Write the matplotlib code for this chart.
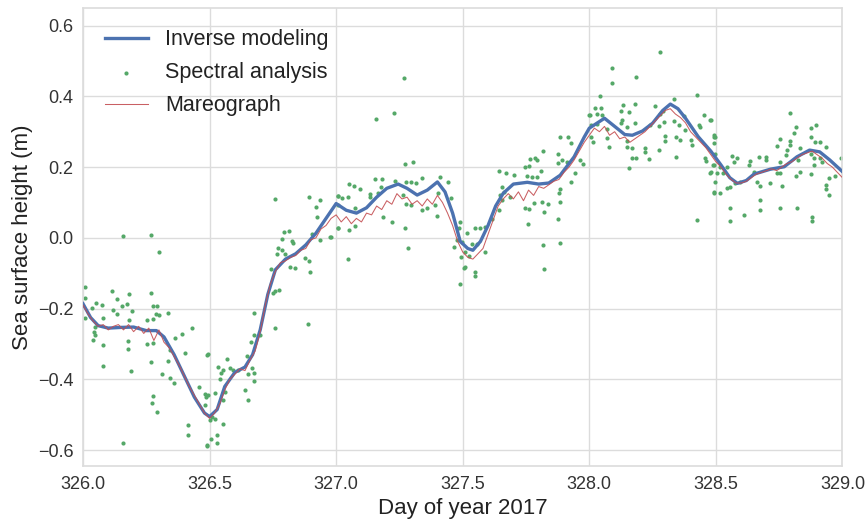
import numpy as np
import matplotlib
matplotlib.use("Agg")
import matplotlib.pyplot as plt

# Inverse modeling (smooth estimate)
inv_x = [326.00, 326.03, 326.06, 326.10, 326.15, 326.20, 326.25, 326.29, 326.32, 326.36,
         326.40, 326.44, 326.48, 326.50, 326.53, 326.56, 326.60, 326.64, 326.67, 326.70,
         326.73, 326.76, 326.80, 326.84, 326.88, 326.92, 326.96, 327.00, 327.04, 327.08,
         327.12, 327.16, 327.20, 327.245, 327.28, 327.32, 327.36, 327.40, 327.43, 327.46,
         327.49, 327.52, 327.54, 327.57, 327.60, 327.63, 327.66, 327.70, 327.755, 327.80,
         327.84, 327.885, 327.94, 327.98, 328.00, 328.06, 328.10, 328.14, 328.17, 328.21,
         328.25, 328.29, 328.32, 328.35, 328.38, 328.43, 328.48, 328.52, 328.555, 328.585,
         328.62, 328.65, 328.715, 328.77, 328.82, 328.87, 328.91, 328.95, 329.00]
inv_y = [-0.186, -0.225, -0.248, -0.255, -0.253, -0.252, -0.262, -0.262, -0.28, -0.33,
         -0.39, -0.45, -0.495, -0.505, -0.485, -0.42, -0.38, -0.365, -0.33, -0.26,
         -0.16, -0.09, -0.06, -0.045, -0.02, 0.013, 0.055, 0.097, 0.078, 0.07,
         0.085, 0.115, 0.14, 0.152, 0.14, 0.121, 0.135, 0.158, 0.13, 0.07,
         -0.01, -0.03, -0.035, -0.01, 0.035, 0.09, 0.126, 0.152, 0.157, 0.152,
         0.155, 0.177, 0.229, 0.285, 0.31, 0.338, 0.315, 0.292, 0.29, 0.302,
         0.324, 0.36, 0.378, 0.365, 0.338, 0.286, 0.245, 0.206, 0.17, 0.154,
         0.162, 0.18, 0.194, 0.201, 0.229, 0.248, 0.243, 0.22, 0.187]

# Mareograph, sampled every 0.02 day from 326.0 to 329.0
mareo_y = [-0.19, -0.215, -0.235, -0.25, -0.245, -0.26, -0.25, -0.245, -0.26, -0.245,
           -0.265, -0.25, -0.27, -0.255, -0.29, -0.26, -0.295, -0.31, -0.335, -0.36,
           -0.39, -0.42, -0.445, -0.47, -0.495, -0.51, -0.495, -0.47, -0.43, -0.40,
           -0.385, -0.37, -0.375, -0.345, -0.32, -0.265, -0.19, -0.13, -0.095, -0.07,
           -0.065, -0.055, -0.05, -0.035, -0.03, -0.005, 0.0, 0.025, 0.035, 0.055,
           0.065, 0.045, 0.06, 0.04, 0.055, 0.045, 0.07, 0.065, 0.09, 0.08,
           0.105, 0.095, 0.125, 0.11, 0.115, 0.095, 0.105, 0.09, 0.11, 0.095,
           0.12, 0.10, 0.07, 0.035, -0.01, -0.04, -0.055, -0.06, -0.045, -0.03,
           0.01, 0.05, 0.09, 0.11, 0.125, 0.11, 0.13, 0.105, 0.135, 0.12,
           0.145, 0.14, 0.15, 0.16, 0.165, 0.185, 0.2, 0.22, 0.245, 0.27,
           0.29, 0.31, 0.3, 0.315, 0.29, 0.3, 0.28, 0.285, 0.27, 0.28,
           0.29, 0.3, 0.315, 0.33, 0.345, 0.36, 0.365, 0.35, 0.34, 0.325,
           0.30, 0.285, 0.27, 0.255, 0.235, 0.215, 0.2, 0.18, 0.165, 0.155,
           0.155, 0.16, 0.17, 0.18, 0.185, 0.19, 0.195, 0.19, 0.2, 0.21,
           0.215, 0.225, 0.235, 0.24, 0.245, 0.235, 0.225, 0.21, 0.2, 0.185,
           0.17]
mareo_x = np.linspace(326.0, 329.0, len(mareo_y))

# Spectral analysis estimates (scattered points)
spec_x = [326.159, 326.269, 326.30, 326.007, 326.007, 326.116, 326.18, 326.27, 326.133, 326.051,
          326.075, 326.034, 326.153, 326.173, 326.275, 326.291, 326.12, 326.192, 326.133, 326.289,
          326.30, 326.337, 326.008, 326.08, 326.182, 326.252, 326.275, 326.047, 326.043, 326.047,
          326.041, 326.43, 326.39, 326.364, 326.177, 326.252, 326.275, 326.08, 326.177, 326.344,
          326.403, 326.489, 326.27, 326.337, 326.08, 326.189, 326.311, 326.344, 326.361, 326.458,
          326.483, 326.277, 326.486, 326.274, 326.291, 326.414, 326.414, 326.158, 326.489,
          326.759, 326.894, 326.937, 327.007, 326.921, 326.924, 327.007, 326.794, 326.815, 326.785,
          326.825, 326.831, 326.77, 326.788, 326.766, 326.798, 326.877, 326.891, 326.818, 326.838,
          326.743, 326.898, 326.937, 326.98, 326.906, 326.759, 326.776, 326.752, 326.677, 326.887,
          326.759, 326.677, 326.70, 326.663, 326.493, 326.647, 326.535, 326.567, 326.555, 326.581,
          326.594, 326.614, 326.667, 326.677, 326.54, 326.546, 326.651, 326.677, 326.64, 326.493,
          326.522, 326.561, 326.555, 326.653, 326.482, 326.511, 326.522, 326.503, 326.555, 326.528,
          326.506, 326.528, 326.489, 326.976,
          327.269, 327.227, 327.159, 327.27, 327.302, 327.049, 327.071, 327.095, 327.154, 327.18,
          327.233, 327.276, 327.296, 327.316, 327.339, 327.411, 327.443, 327.007, 327.025, 327.045,
          327.134, 327.134, 327.167, 327.178, 327.266, 327.277, 327.296, 327.358, 327.339, 327.391,
          327.404, 327.453, 327.075, 327.009, 327.187, 327.22, 327.40, 327.009, 327.049, 327.075,
          327.27, 327.282, 327.046, 327.464, 327.484, 327.49, 327.477, 327.507, 327.49, 327.494,
          327.517, 327.549, 327.569, 327.589, 327.615, 327.497, 327.536, 327.555, 327.51, 327.524,
          327.589, 327.506, 327.549, 327.549, 327.642, 327.672, 327.704, 327.655, 327.664,
          327.648, 327.655, 327.688, 327.642, 327.747, 327.763, 327.758, 327.78, 327.813, 327.837,
          327.82, 327.817, 327.82, 327.876, 327.883, 327.747, 327.76, 327.767, 327.787, 327.794,
          327.817, 327.81, 327.753, 327.773, 327.795, 327.885, 327.914, 327.929, 327.875, 327.892,
          327.912, 327.876, 327.945, 327.929, 327.885, 327.879, 327.885, 327.975, 328.0, 327.962,
          328.281, 328.09, 328.186, 328.09, 328.043, 328.426, 328.333, 328.024, 328.046, 328.132,
          328.179, 328.258, 328.29, 328.004, 328.03, 328.05, 328.125, 328.155, 328.281, 328.452,
          328.478, 328.129, 328.126, 328.296, 328.333, 328.373, 328.356, 328.179, 328.03, 328.008,
          328.149, 328.241, 328.277, 328.378, 328.433, 328.439, 328.491, 328.07, 328.008, 328.07,
          328.013, 328.149, 328.077, 328.149, 328.169, 328.221, 328.221, 328.277, 328.298, 328.298,
          328.342, 328.36, 328.403, 328.406, 328.169, 328.185, 328.235, 328.342, 328.458, 328.461,
          328.158, 328.482, 328.488, 328.491, 328.425,
          328.794, 328.818, 328.897, 328.874, 328.808, 328.874, 328.481, 328.494, 328.498, 328.752,
          328.791, 328.494, 328.893, 328.913, 328.742, 328.794, 328.781, 328.933, 328.834, 328.498,
          328.775, 328.824, 328.874, 328.887, 328.913, 328.887, 328.92, 328.564, 328.585, 328.572,
          328.636, 328.672, 328.698, 328.698, 328.755, 328.63, 328.491, 328.518, 328.544, 328.742,
          328.755, 328.834, 328.818, 328.874, 328.946, 328.972, 328.995, 328.478, 328.504, 328.528,
          328.649, 328.498, 328.577, 328.597, 328.663, 328.715, 328.542, 328.557, 328.673, 328.762,
          328.494, 328.518, 328.933, 328.933, 328.946, 328.673, 328.555, 328.673, 328.755, 328.821,
          328.61, 328.555, 328.88, 328.88]
spec_y = [0.005, 0.008, -0.04, -0.139, -0.17, -0.151, -0.159, -0.157, -0.173, -0.183,
          -0.19, -0.197, -0.193, -0.188, -0.193, -0.192, -0.205, -0.207, -0.214, -0.214,
          -0.217, -0.212, -0.225, -0.225, -0.231, -0.231, -0.23, -0.253, -0.266, -0.275,
          -0.289, -0.256, -0.272, -0.283, -0.291, -0.299, -0.296, -0.304, -0.315, -0.318,
          -0.325, -0.33, -0.351, -0.349, -0.361, -0.375, -0.386, -0.395, -0.41, -0.421,
          -0.44, -0.447, -0.45, -0.467, -0.491, -0.529, -0.558, -0.58, -0.587,
          0.109, 0.116, 0.107, 0.118, 0.086, 0.059, 0.027, 0.017, 0.02, -0.002,
          -0.008, -0.014, -0.03, -0.035, -0.046, -0.046, -0.058, -0.065, -0.082, -0.084,
          -0.087, -0.096, -0.005, 0.003, 0.012, -0.15, -0.146, -0.157, -0.212, -0.242,
          -0.256, -0.275, -0.275, -0.294, -0.329, -0.335, -0.365, -0.343, -0.372, -0.367,
          -0.374, -0.372, -0.367, -0.382, -0.4, -0.382, -0.386, -0.405, -0.431, -0.445,
          -0.438, -0.436, -0.459, -0.457, -0.473, -0.506, -0.511, -0.516, -0.527, -0.558,
          -0.567, -0.58, -0.586, 0.003,
          0.453, 0.354, 0.335, 0.208, 0.215, 0.152, 0.147, 0.138, 0.166, 0.166,
          0.161, 0.157, 0.158, 0.154, 0.168, 0.171, 0.157, 0.118, 0.114, 0.116,
          0.123, 0.116, 0.127, 0.144, 0.121, 0.097, 0.094, 0.083, 0.078, 0.093,
          0.126, 0.114, 0.083, 0.094, 0.059, 0.044, 0.062, 0.027, 0.022, 0.033,
          0.027, -0.03, -0.061, -0.025, 0.027, 0.045, -0.007, -0.082, -0.129, -0.054,
          0.014, 0.027, 0.027, 0.031, 0.052, -0.011, -0.016, -0.018, -0.04, -0.052,
          -0.04, -0.084, -0.096, -0.108, 0.19, 0.182, 0.177, 0.143, 0.13,
          0.121, 0.107, 0.116, 0.078, 0.085, 0.081, 0.039, 0.099, 0.102, 0.095,
          0.074, -0.021, -0.089, 0.052, -0.014, 0.201, 0.203, 0.222, 0.225, 0.22,
          0.246, 0.189, 0.175, 0.173, 0.171, 0.286, 0.286, 0.269, 0.237, 0.22,
          0.215, 0.212, 0.182, 0.158, 0.137, 0.126, 0.102, 0.21, 0.347, 0.22,
          0.525, 0.479, 0.455, 0.437, 0.402, 0.404, 0.391, 0.368, 0.366, 0.375,
          0.378, 0.373, 0.359, 0.347, 0.35, 0.347, 0.358, 0.356, 0.35, 0.347,
          0.333, 0.333, 0.325, 0.328, 0.331, 0.344, 0.319, 0.324, 0.322, 0.319,
          0.312, 0.319, 0.317, 0.305, 0.319, 0.312, 0.286, 0.307, 0.286, 0.281,
          0.272, 0.274, 0.258, 0.258, 0.255, 0.253, 0.243, 0.248, 0.288, 0.274,
          0.286, 0.276, 0.276, 0.262, 0.226, 0.226, 0.222, 0.229, 0.227, 0.218,
          0.198, 0.187, 0.206, 0.126, 0.05,
          0.354, 0.312, 0.319, 0.31, 0.295, 0.286, 0.333, 0.291, 0.286, 0.278,
          0.274, 0.267, 0.272, 0.272, 0.259, 0.262, 0.248, 0.257, 0.253, 0.236,
          0.234, 0.22, 0.237, 0.225, 0.225, 0.206, 0.215, 0.231, 0.225, 0.215,
          0.218, 0.229, 0.229, 0.22, 0.215, 0.206, 0.206, 0.201, 0.201, 0.184,
          0.182, 0.187, 0.175, 0.18, 0.168, 0.175, 0.225, 0.182, 0.182, 0.184,
          0.187, 0.158, 0.154, 0.158, 0.158, 0.156, 0.14, 0.144, 0.146, 0.146,
          0.13, 0.126, 0.149, 0.137, 0.121, 0.107, 0.083, 0.078, 0.083, 0.083,
          0.064, 0.048, 0.059, 0.047]

plt.rcParams['font.family'] = ['Liberation Sans', 'DejaVu Sans']

fig = plt.figure(figsize=(8.68, 5.22), dpi=100)
ax = fig.add_axes([0.0956, 0.107, 0.875, 0.878])

ax.plot(inv_x, inv_y, color='#4C72B0', lw=2.4, label='Inverse modeling', zorder=3)
ax.scatter(spec_x, spec_y, s=9, color='#55A868', lw=0, label='Spectral analysis', zorder=2)
ax.plot(mareo_x, mareo_y, color='#C44E52', lw=0.75, alpha=0.9, label='Mareograph', zorder=4)

ax.set_xlim(326.0, 329.0)
ax.set_ylim(-0.645, 0.65)
ax.set_xticks([326.0, 326.5, 327.0, 327.5, 328.0, 328.5, 329.0])
ax.set_xticklabels(['326.0', '326.5', '327.0', '327.5', '328.0', '328.5', '329.0'])
ax.set_yticks([-0.6, -0.4, -0.2, 0.0, 0.2, 0.4, 0.6])
ax.set_yticklabels(['\u22120.6', '\u22120.4', '\u22120.2', '0.0', '0.2', '0.4', '0.6'])
ax.tick_params(length=0, labelsize=13, colors='#333333', pad=7)
ax.grid(True, color='#dcdcdc', lw=1)
ax.set_axisbelow(True)
for sp in ax.spines.values():
    sp.set_color('#dcdcdc')
    sp.set_linewidth(1.2)

ax.set_xlabel('Day of year 2017', fontsize=16, color='#222222', labelpad=4)
ax.set_ylabel('Sea surface height (m)', fontsize=16, color='#222222', labelpad=3)

leg = ax.legend(loc='upper left', frameon=False, fontsize=15.5, markerscale=1.0,
                handlelength=2.0, borderaxespad=0.6, labelspacing=0.55)
for t in leg.get_texts():
    t.set_color('#222222')

fig.savefig('out.png', dpi=100)
